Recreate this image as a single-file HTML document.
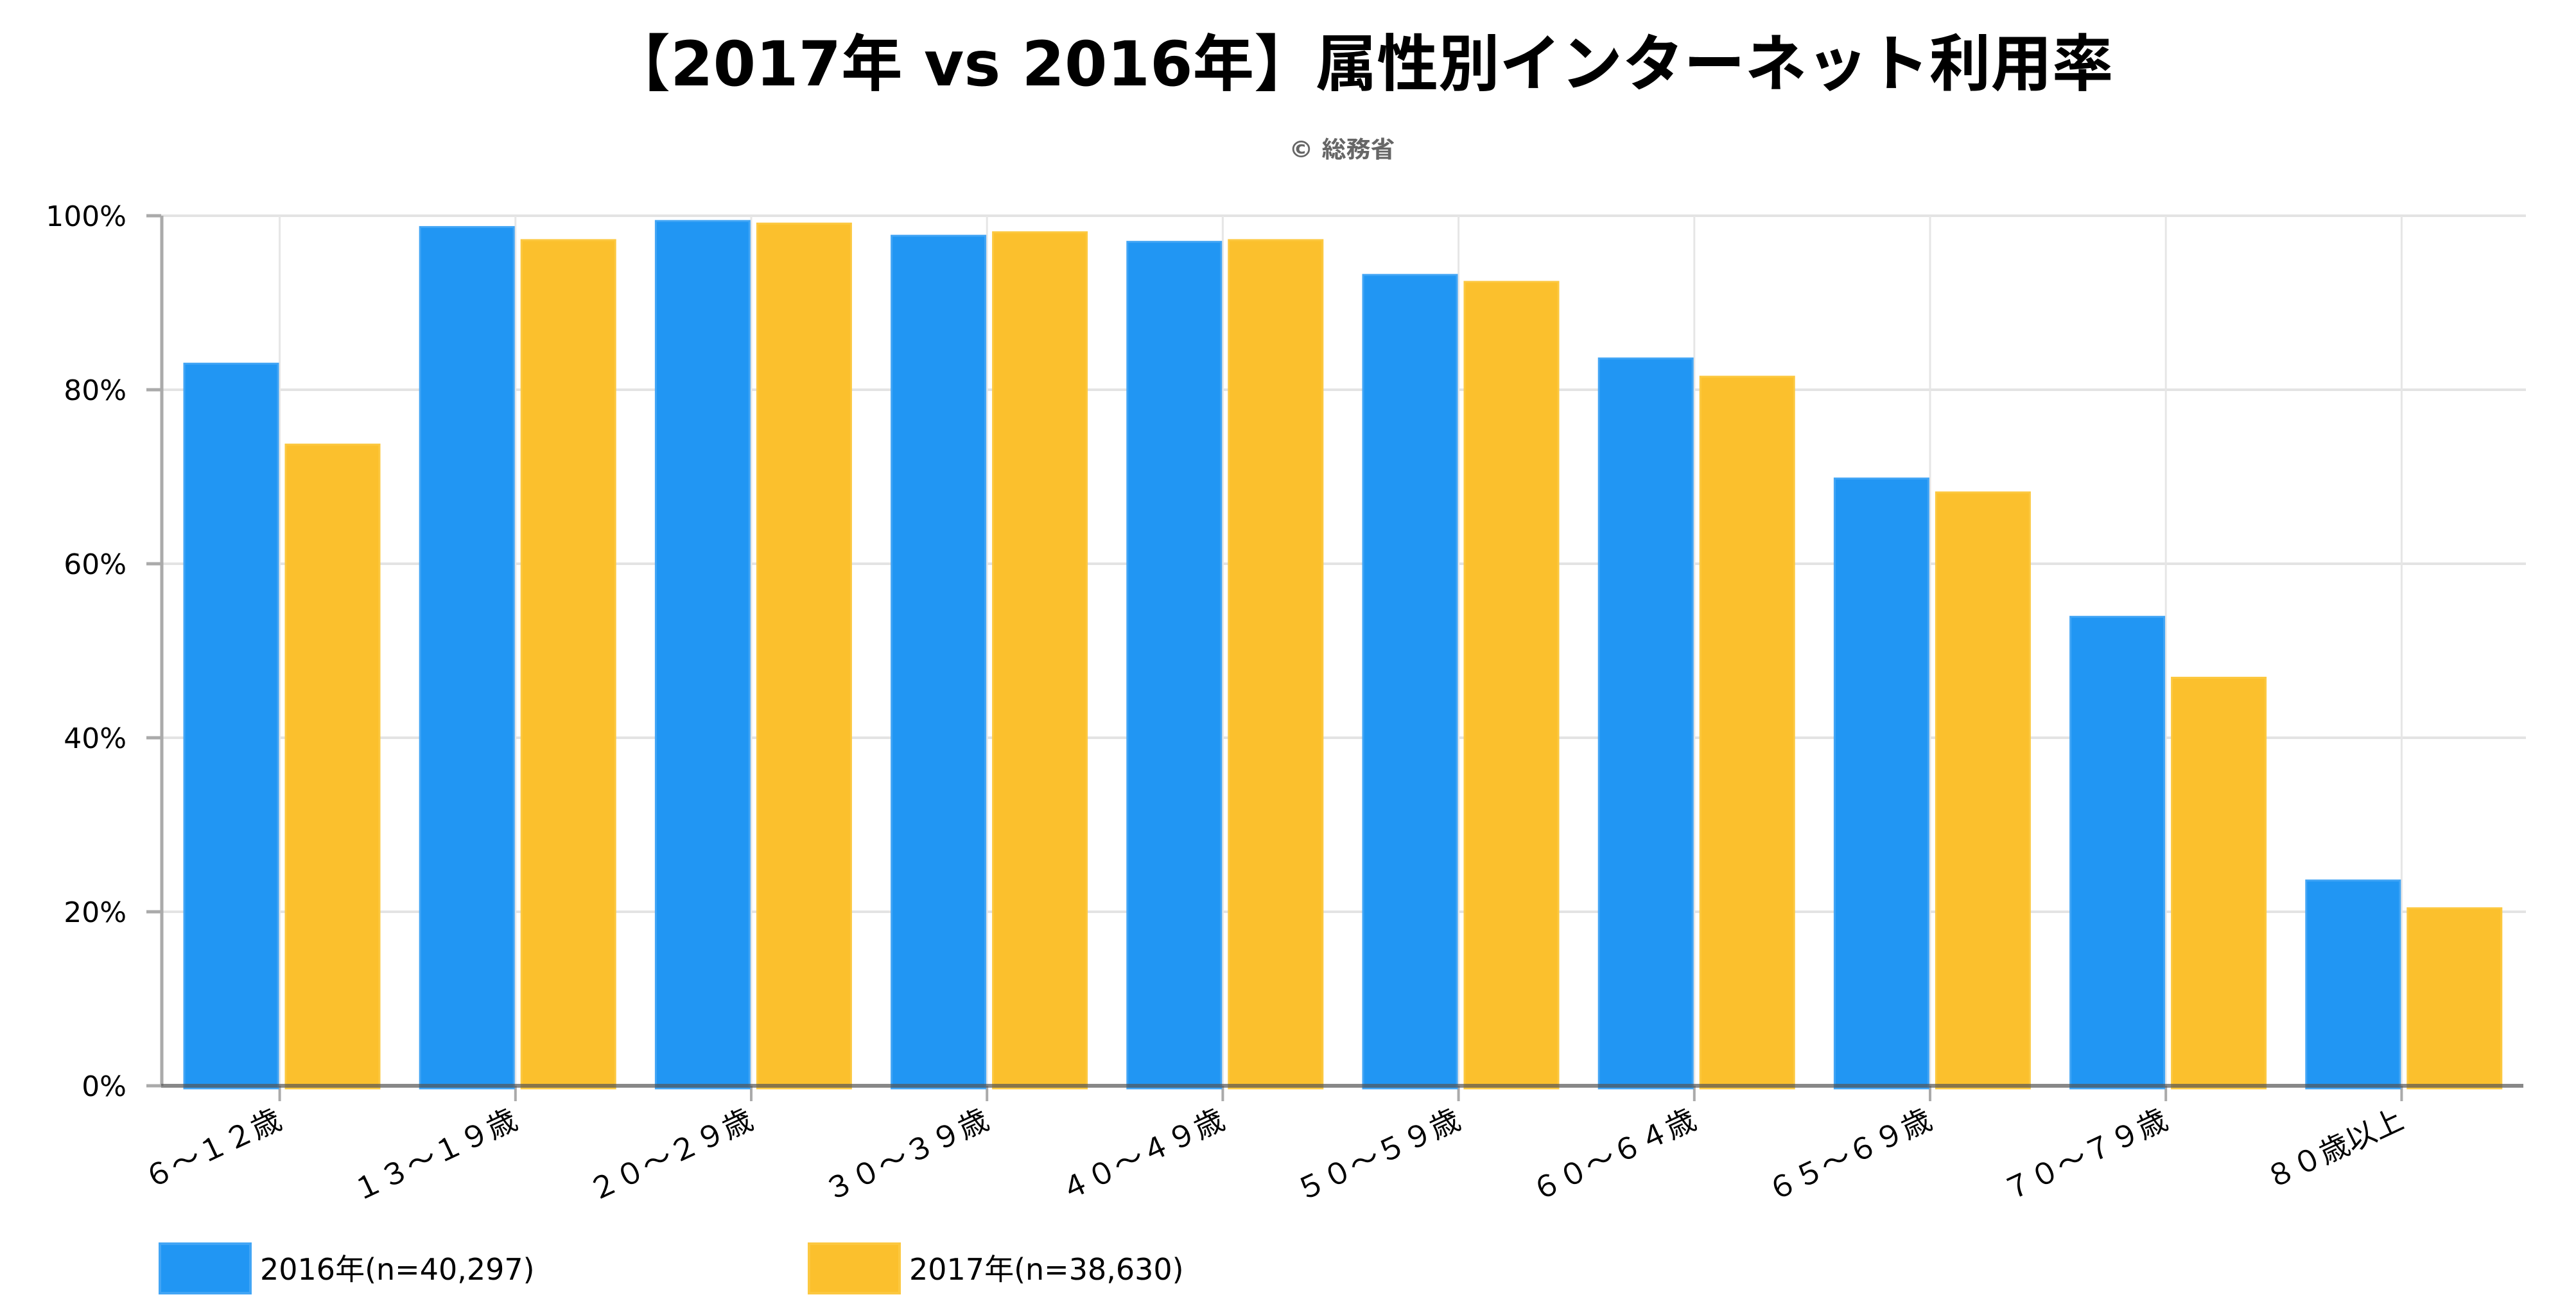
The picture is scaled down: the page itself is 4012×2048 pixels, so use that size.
<!DOCTYPE html>
<html><head><meta charset="utf-8">
<style>html,body{margin:0;padding:0;background:#fff;}svg{display:block;}</style>
</head><body>
<svg width="4012" height="2048" viewBox="0 0 4012 2048" xmlns="http://www.w3.org/2000/svg" font-family="'DejaVu Sans','Noto Sans CJK JP',sans-serif">
<rect width="4012" height="2048" fill="#fff"/>
<text x="2120" y="133" font-size="96" font-weight="bold" text-anchor="middle" textLength="2343" lengthAdjust="spacingAndGlyphs" fill="#000">【2017年 vs 2016年】属性別インターネット利用率</text>
<text x="2090" y="245" font-size="36" font-weight="bold" text-anchor="middle" textLength="165" lengthAdjust="spacingAndGlyphs" fill="#666">© 総務省</text>
<g stroke="#e3e3e3" stroke-width="4">
<line x1="251" y1="336" x2="3934" y2="336"/><line x1="251" y1="607" x2="3934" y2="607"/><line x1="251" y1="878" x2="3934" y2="878"/><line x1="251" y1="1149" x2="3934" y2="1149"/><line x1="251" y1="1420" x2="3934" y2="1420"/>
</g>
<g stroke="#e6e6e6" stroke-width="3" id="vg"></g>
<g stroke="#aaa" stroke-width="5">
<line x1="228" y1="336" x2="251" y2="336"/><line x1="228" y1="607" x2="251" y2="607"/><line x1="228" y1="878" x2="251" y2="878"/><line x1="228" y1="1149" x2="251" y2="1149"/><line x1="228" y1="1420" x2="251" y2="1420"/><line x1="228" y1="1691" x2="251" y2="1691"/>
<line x1="252" y1="336" x2="252" y2="1691"/>
</g>
<g font-size="44" text-anchor="end" fill="#000">
<text x="197" y="352">100%</text><text x="197" y="623">80%</text><text x="197" y="894">60%</text><text x="197" y="1165">40%</text><text x="197" y="1436">20%</text><text x="197" y="1707">0%</text>
</g>
<g id="bars"></g>
<line x1="251" y1="1691" x2="3930" y2="1691" stroke="#555" stroke-opacity="0.7" stroke-width="6"/>
<g id="labels" font-size="46" fill="#000"></g>
<rect x="249" y="1937" width="141" height="77" fill="#2196F3" stroke="#42a5f5" stroke-width="4"/>
<text x="405" y="1993" font-size="46" fill="#000">2016年(n=40,297)</text>
<rect x="1260" y="1937" width="141" height="77" fill="#FBC02D" stroke="#fcc840" stroke-width="4"/>
<text x="1416" y="1993" font-size="46" fill="#000">2017年(n=38,630)</text>
<script>
(function(){
var ns="http://www.w3.org/2000/svg";
var a=[83.0,98.7,99.4,97.7,97.0,93.2,83.6,69.8,53.9,23.6];
var b=[73.7,97.2,99.1,98.1,97.2,92.4,81.5,68.2,46.9,20.4];
var lab=["６～１２歳","１３～１９歳","２０～２９歳","３０～３９歳","４０～４９歳","５０～５９歳","６０～６４歳","６５～６９歳","７０～７９歳","８０歳以上"];
var L=252,W=367.2,B=1691,H=1355;
var vg=document.getElementById("vg"),bars=document.getElementById("bars"),lb=document.getElementById("labels");
function el(t,at,p){var e=document.createElementNS(ns,t);for(var k in at)e.setAttribute(k,at[k]);p.appendChild(e);return e;}
for(var i=0;i<10;i++){
 var x=L+W*i, c=x+W/2;
 el("line",{x1:c,y1:336,x2:c,y2:1691},vg);
 el("line",{x1:c,y1:1691,x2:c,y2:1715,stroke:"#aaa","stroke-width":4},bars);
 var h1=a[i]/100*H,h2=b[i]/100*H;
 el("rect",{x:x+35,y:B-h1,width:146,height:h1+4,fill:"#2196F3",stroke:"#42a5f5","stroke-width":3},bars);
 el("rect",{x:x+193,y:B-h2,width:146,height:h2+4,fill:"#FBC02D",stroke:"#fcc840","stroke-width":3},bars);
 var t=el("text",{x:0,y:0,"text-anchor":"end",transform:"translate("+(c+6)+",1755) rotate(-25)"},lb);
 t.textContent=lab[i];
}
})();
</script>
</svg>
</body></html>
